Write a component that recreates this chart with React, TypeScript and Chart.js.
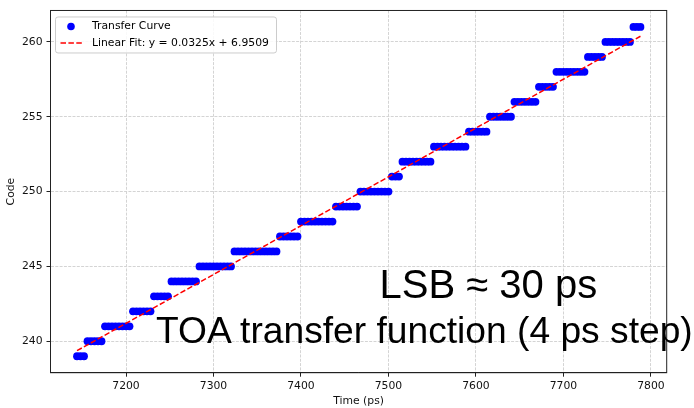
import React, { useEffect, useRef } from "react";
import { Chart, registerables } from "chart.js";

Chart.register(...registerables);

// ---- data ----
const codes = [239, 240, 241, 242, 243, 244, 245, 246, 247, 248, 249, 250, 251, 252, 253, 254, 255, 256, 257, 258, 259, 260, 261];
const stepTimes = [
  [7144, 7148, 7152],
  [7156, 7160, 7164, 7168, 7172],
  [7176, 7180, 7184, 7188, 7192, 7196, 7200, 7204],
  [7208, 7212, 7216, 7220, 7224, 7228],
  [7232, 7236, 7240, 7244, 7248],
  [7252, 7256, 7260, 7264, 7268, 7272, 7276, 7280],
  [7284, 7288, 7292, 7296, 7300, 7304, 7308, 7312, 7316, 7320],
  [7324, 7328, 7332, 7336, 7340, 7344, 7348, 7352, 7356, 7360, 7364, 7368, 7372],
  [7376, 7380, 7384, 7388, 7392, 7396],
  [7400, 7404, 7408, 7412, 7416, 7420, 7424, 7428, 7432, 7436],
  [7440, 7444, 7448, 7452, 7456, 7460, 7464],
  [7468, 7472, 7476, 7480, 7484, 7488, 7492, 7496, 7500],
  [7504, 7508, 7512],
  [7516, 7520, 7524, 7528, 7532, 7536, 7540, 7544, 7548],
  [7552, 7556, 7560, 7564, 7568, 7572, 7576, 7580, 7584, 7588],
  [7592, 7596, 7600, 7604, 7608, 7612],
  [7616, 7620, 7624, 7628, 7632, 7636, 7640],
  [7644, 7648, 7652, 7656, 7660, 7664, 7668],
  [7672, 7676, 7680, 7684, 7688],
  [7692, 7696, 7700, 7704, 7708, 7712, 7716, 7720, 7724],
  [7728, 7732, 7736, 7740, 7744],
  [7748, 7752, 7756, 7760, 7764, 7768, 7772, 7776],
  [7780, 7784, 7788],
];
const fitX = [7144, 7788];
const fitY = [239.37, 260.38];
const xTicks = [7200, 7300, 7400, 7500, 7600, 7700, 7800];
const yTicks = [240, 245, 250, 255, 260];
const seriesLabels = ["Transfer Curve", "Linear Fit: y = 0.0325x + 6.9509"];
const xTitle = "Time (ps)";
const yTitle = "Code";
const noteLines = ["LSB ≈ 30 ps", "TOA transfer function (4 ps step)"];

const X_MIN = 7113.7;
const X_MAX = 7818;
const Y_MIN = 237.9;
const Y_MAX = 262.1;

const FONT = '"DejaVu Sans", sans-serif';
const FS = 10.8;

const framePlugin = {
  id: "frameAndLegend",
  afterDraw(chart: any) {
    const { ctx, chartArea } = chart;
    ctx.save();
    // full frame (top/right spines)
    ctx.strokeStyle = "#222";
    ctx.lineWidth = 1;
    ctx.setLineDash([]);
    ctx.strokeRect(chartArea.left, chartArea.top, chartArea.right - chartArea.left, chartArea.bottom - chartArea.top);

    // matplotlib-style legend
    const bx = chartArea.left + 5, by = chartArea.top + 6.5, bw = 221, bh = 36;
    ctx.beginPath();
    const r = 2.5;
    ctx.moveTo(bx + r, by);
    ctx.lineTo(bx + bw - r, by);
    ctx.quadraticCurveTo(bx + bw, by, bx + bw, by + r);
    ctx.lineTo(bx + bw, by + bh - r);
    ctx.quadraticCurveTo(bx + bw, by + bh, bx + bw - r, by + bh);
    ctx.lineTo(bx + r, by + bh);
    ctx.quadraticCurveTo(bx, by + bh, bx, by + bh - r);
    ctx.lineTo(bx, by + r);
    ctx.quadraticCurveTo(bx, by, bx + r, by);
    ctx.closePath();
    ctx.fillStyle = "rgba(255,255,255,0.85)";
    ctx.fill();
    ctx.strokeStyle = "#cccccc";
    ctx.lineWidth = 1;
    ctx.stroke();

    const ds = chart.data.datasets;
    const row1 = by + 9.5, row2 = by + 26;
    // scatter marker
    ctx.fillStyle = ds[1].backgroundColor;
    ctx.beginPath();
    ctx.arc(bx + 15.5, row1, 3.8, 0, Math.PI * 2);
    ctx.fill();
    // dashed line
    ctx.strokeStyle = ds[0].borderColor;
    ctx.lineWidth = ds[0].borderWidth;
    ctx.setLineDash(ds[0].borderDash);
    ctx.beginPath();
    ctx.moveTo(bx + 5, row2);
    ctx.lineTo(bx + 27, row2);
    ctx.stroke();
    ctx.setLineDash([]);
    // texts
    ctx.fillStyle = "#000";
    ctx.font = `${FS}px ${FONT}`;
    ctx.textBaseline = "middle";
    ctx.textAlign = "left";
    ctx.fillText(ds[1].label, bx + 36.5, row1);
    ctx.fillText(ds[0].label, bx + 36.5, row2);
    ctx.restore();
  },
};

export default function App() {
  const ref = useRef<HTMLCanvasElement | null>(null);

  useEffect(() => {
    if (!ref.current) return;
    const points = codes.flatMap((c, i) => stepTimes[i].map((t) => ({ x: t, y: c })));
    const fitPoints = fitX.map((x, i) => ({ x, y: fitY[i] }));

    const chart = new Chart(ref.current, {
      type: "scatter",
      data: {
        datasets: [
          {
            type: "line",
            label: seriesLabels[1],
            data: fitPoints,
            borderColor: "#ff0000",
            borderWidth: 1.5,
            borderDash: [5.5, 2.4],
            pointRadius: 0,
            showLine: true,
            fill: false,
            order: 0,
          } as any,
          {
            label: seriesLabels[0],
            data: points,
            backgroundColor: "#0000ff",
            borderWidth: 0,
            pointRadius: 3.9,
            pointHoverRadius: 3.9,
            order: 1,
          },
        ],
      },
      options: {
        responsive: false,
        animation: false,
        events: [],
        layout: { padding: { top: 6, right: 27.3, left: 0, bottom: 0 } },
        plugins: {
          legend: { display: false },
          tooltip: { enabled: false },
        },
        scales: {
          x: {
            type: "linear",
            min: X_MIN,
            max: X_MAX,
            afterBuildTicks: (scale: any) => {
              scale.ticks = xTicks.map((v) => ({ value: v }));
            },
            afterFit: (scale: any) => {
              scale.height = 35.3;
            },
            ticks: {
              color: "#111",
              font: { family: FONT, size: FS },
              padding: 3,
              maxRotation: 0,
              autoSkip: false,
              callback: (v: any) => String(v),
            },
            grid: {
              color: "#d4d4d4",
              lineWidth: 1,
              tickLength: 4,
              tickColor: "#222",
              tickWidth: 1,
              tickBorderDash: [],
            },
            border: { display: true, color: "#222", width: 1, dash: [3, 1.3] },
            title: {
              display: true,
              text: xTitle,
              color: "#111",
              font: { family: FONT, size: FS },
              padding: { top: 0, bottom: 0 },
            },
          },
          y: {
            type: "linear",
            min: Y_MIN,
            max: Y_MAX,
            afterBuildTicks: (scale: any) => {
              scale.ticks = yTicks.map((v) => ({ value: v }));
            },
            afterFit: (scale: any) => {
              scale.width = 50.5;
            },
            ticks: {
              color: "#111",
              font: { family: FONT, size: FS },
              padding: 4,
              autoSkip: false,
              callback: (v: any) => String(v),
            },
            grid: {
              color: "#d4d4d4",
              lineWidth: 1,
              tickLength: 4,
              tickColor: "#222",
              tickWidth: 1,
              tickBorderDash: [],
            },
            border: { display: true, color: "#222", width: 1, dash: [3, 1.3] },
            title: {
              display: true,
              text: yTitle,
              color: "#111",
              font: { family: FONT, size: FS },
              padding: { top: 4.5, bottom: 0 },
            },
          },
        },
      },
      plugins: [framePlugin],
    });
    return () => chart.destroy();
  }, []);

  const noteBase: React.CSSProperties = {
    position: "absolute",
    whiteSpace: "nowrap",
    color: "#000",
    fontFamily: '"Liberation Sans", Arial, sans-serif',
  };

  return (
    <div style={{ position: "fixed", left: 0, top: 0, width: 694, height: 408, background: "#fff", overflow: "hidden" }}>
      <canvas ref={ref} width={694} height={408} style={{ display: "block", width: 694, height: 408 }} />
      <div style={{ ...noteBase, left: 379.5, top: 264, fontSize: 40, lineHeight: "40px" }}>{noteLines[0]}</div>
      <div style={{ ...noteBase, left: 156, top: 311.5, fontSize: 37.2, lineHeight: "37.2px" }}>{noteLines[1]}</div>
    </div>
  );
}
